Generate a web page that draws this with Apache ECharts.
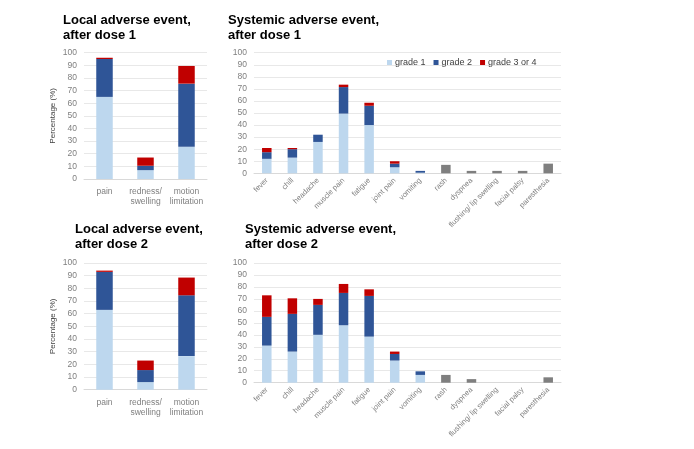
<!DOCTYPE html>
<html>
<head>
<meta charset="utf-8">
<script src="https://cdn.jsdelivr.net/npm/echarts@6/dist/echarts.min.js"></script>
<style>html,body{margin:0;padding:0;background:#fff}#c{width:694px;height:449px}</style>
</head>
<body>
<div id="c"></div>
<script>
// ---- Data ----
const localCats = ['pain', 'redness/\nswelling', 'motion\nlimitation'];
const sysCats = ['fever', 'chill', 'headache', 'muscle pain', 'fatigue', 'joint pain', 'vomiting', 'rash', 'dyspnea', 'flushing/ lip swelling', 'facial palsy', 'paresthesia'];

const local1Grade1 = [65, 7, 25.5];
const local1Grade2 = [30, 3.5, 50];
const local1Grade3 = [1, 6.5, 14];

const local2Grade1 = [63, 6, 26.5];
const local2Grade2 = [30, 9.5, 48];
const local2Grade3 = [1, 7.5, 14];

const sys1Grade1 = [12, 13, 26, 49.5, 40, 5, 0.5, null, null, null, null, null];
const sys1Grade2 = [5.5, 7, 6, 22, 16, 3, 1.5, null, null, null, null, null];
const sys1Grade3 = [3.5, 1, null, 2, 2.5, 2, null, null, null, null, null, null];
const sys1Other  = [null, null, null, null, null, null, null, 7, 2, 2, 2, 8];

const sys2Grade1 = [31, 26, 40, 48, 38.5, 18.5, 6.5, null, null, null, null, null];
const sys2Grade2 = [24, 31.5, 25, 27, 34, 5.5, 3, null, null, null, null, null];
const sys2Grade3 = [18, 13, 5, 7.5, 5.5, 2, null, null, null, null, null, null];
const sys2Other  = [null, null, null, null, null, null, null, 6.5, 3, null, null, 4.5];

const yTicks = { min: 0, max: 100, interval: 10 };

// ---- Styles ----
const C1 = '#BDD7EE', C2 = '#2F5597', C3 = '#C00000', C4 = '#7F7F7F';
const FONT = 'Liberation Sans, Arial, sans-serif';
const labelColor = '#7F7F7F';

function yAxis(grid, withName) {
  const a = {
    type: 'value', gridIndex: grid, min: yTicks.min, max: yTicks.max, interval: yTicks.interval,
    axisLine: { show: false }, axisTick: { show: false },
    axisLabel: { color: labelColor, fontSize: 8.5, fontFamily: FONT, margin: 7 },
    splitLine: { lineStyle: { color: '#E8E8E8', width: 1 } }
  };
  if (withName) {
    a.name = 'Percentage (%)';
    a.nameLocation = 'middle';
    a.nameGap = 27;
    a.nameTextStyle = { color: '#404040', fontSize: 8, fontFamily: FONT };
  }
  return a;
}
function xAxis(grid, cats, rotated) {
  return {
    type: 'category', gridIndex: grid, data: cats,
    axisLine: { lineStyle: { color: '#D9D9D9' } }, axisTick: { show: false },
    axisLabel: rotated
      ? { color: labelColor, fontSize: 7.5, fontFamily: FONT, rotate: 45, interval: 0, margin: 6 }
      : { color: labelColor, fontSize: 8.5, fontFamily: FONT, interval: 0, margin: 8, lineHeight: 10 }
  };
}
function bars(grid, stack, g1, g2, g3, other, width) {
  const s = [
    { name: 'grade 1', data: g1, color: C1 },
    { name: 'grade 2', data: g2, color: C2 },
    { name: 'grade 3 or 4', data: g3, color: C3 }
  ];
  if (other) s.push({ name: 'other', data: other, color: C4 });
  return s.map(d => ({
    type: 'bar', name: d.name, data: d.data, stack: stack,
    xAxisIndex: grid, yAxisIndex: grid, barWidth: width,
    itemStyle: { color: d.color }, emphasis: { disabled: true }
  }));
}
function title(text, left, top) {
  return {
    text: text, left: left, top: top, padding: 0,
    textStyle: { fontSize: 13, fontWeight: 'bold', color: '#000', fontFamily: FONT, lineHeight: 15 }
  };
}

const chart = echarts.init(document.getElementById('c'), null, { renderer: 'canvas' });
chart.setOption({
  animation: false,
  backgroundColor: '#fff',
  title: [
    title('Local adverse event,\nafter dose 1', 63, 13),
    title('Systemic adverse event,\nafter dose 1', 228, 13),
    title('Local adverse event,\nafter dose 2', 75, 222),
    title('Systemic adverse event,\nafter dose 2', 245, 222)
  ],
  legend: {
    data: ['grade 1', 'grade 2', 'grade 3 or 4'],
    left: 387, top: 58, padding: 0,
    itemWidth: 5, itemHeight: 5, itemGap: 8, icon: 'rect',
    textStyle: { fontSize: 9, color: '#404040', fontFamily: FONT, padding: [0, 0, 0, -2] }
  },
  grid: [
    { left: 84, top: 52.7, width: 123, height: 126.3 },
    { left: 254, top: 52.7, width: 307, height: 120.6 },
    { left: 84, top: 263, width: 123, height: 126.7 },
    { left: 254, top: 263, width: 307, height: 119.7 }
  ],
  xAxis: [
    xAxis(0, localCats, false),
    xAxis(1, sysCats, true),
    xAxis(2, localCats, false),
    xAxis(3, sysCats, true)
  ],
  yAxis: [yAxis(0, true), yAxis(1, false), yAxis(2, true), yAxis(3, false)],
  series: [].concat(
    bars(0, 'l1', local1Grade1, local1Grade2, local1Grade3, null, 16.5),
    bars(1, 's1', sys1Grade1, sys1Grade2, sys1Grade3, sys1Other, 9.5),
    bars(2, 'l2', local2Grade1, local2Grade2, local2Grade3, null, 16.5),
    bars(3, 's2', sys2Grade1, sys2Grade2, sys2Grade3, sys2Other, 9.5)
  )
});
</script>
</body>
</html>
